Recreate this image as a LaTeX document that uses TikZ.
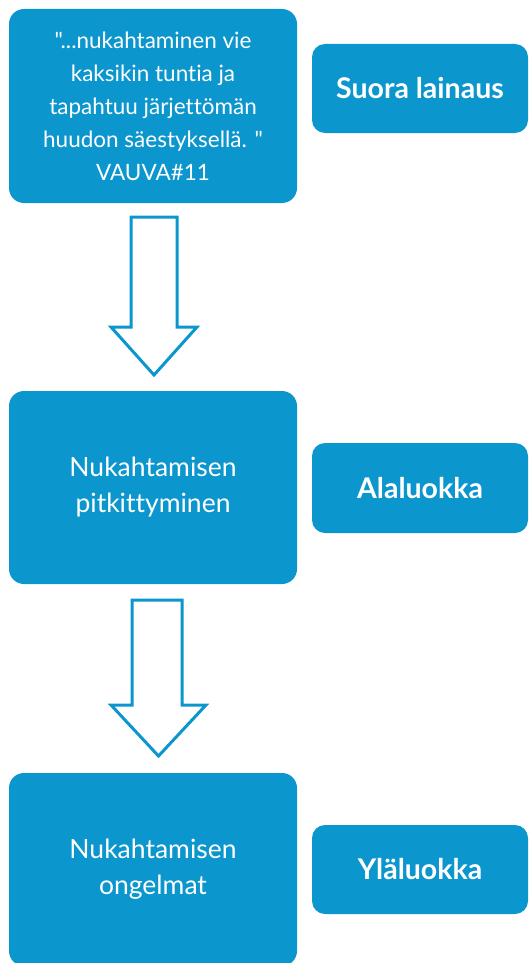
\documentclass[tikz,border=0pt]{standalone}
\usepackage{fontspec}
\setmainfont{Lato}[Ligatures={NoCommon,TeXOff}]
\definecolor{boxblue}{RGB}{11,150,206}
\tikzset{
  mainbox/.style={fill=boxblue, rounded corners=15pt, minimum width=288pt, minimum height=193pt,
    text=white, align=center, font=\fontsize{26.5}{36}\selectfont, inner sep=0pt},
  labelbox/.style={fill=boxblue, rounded corners=13pt, minimum width=216pt, minimum height=89pt,
    text=white, align=center, font=\fontsize{28.5}{34}\selectfont\bfseries, inner sep=0pt},
  blockarrow/.style={draw=boxblue, fill=white, line width=3pt, line join=miter}
}
\begin{document}
\begin{tikzpicture}[x=1pt,y=-1pt]
\useasboundingbox (0,0) rectangle (528,963);
\node[mainbox, minimum height=194pt, font=\fontsize{22.5}{33}\selectfont] (q) at (153,106) {"...nukahtaminen vie\\kaksikin tuntia ja\\tapahtuu järjettömän\\huudon säestyksellä. "\\VAUVA\#11};
\node[labelbox] (l1) at (420,88.5) {Suora lainaus};
\node[mainbox] (s) at (153,487.5) {Nukahtamisen\\pitkittyminen};
\node[labelbox, minimum height=90pt] (l2) at (420,488) {Alaluokka};
\node[mainbox] (p) at (153,869.5) {Nukahtamisen\\ongelmat};
\node[labelbox] (l3) at (420,869.5) {Yläluokka};
% block arrows
\draw[blockarrow] (131,217) -- (177,217) -- (177,327) -- (197,327) -- (154,375) -- (111,327) -- (131,327) -- cycle;
\draw[blockarrow] (132,600) -- (182,600) -- (182,705) -- (206,705) -- (158.5,756) -- (111,705) -- (132,705) -- cycle;
\end{tikzpicture}
\end{document}
